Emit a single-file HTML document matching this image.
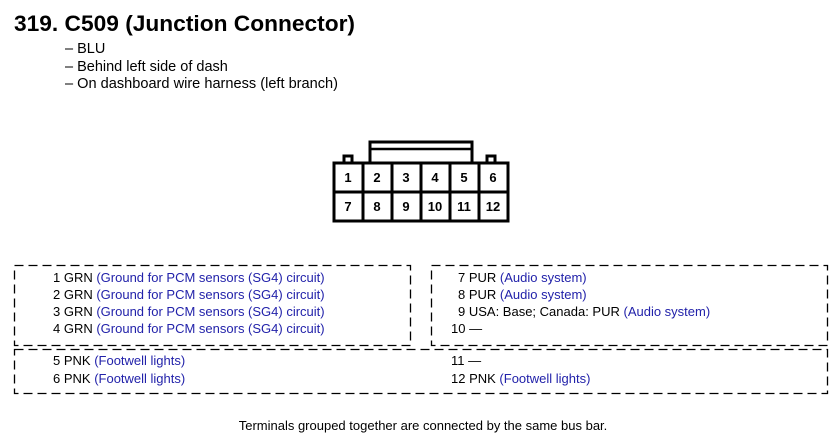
<!DOCTYPE html>
<html><head><meta charset="utf-8"><style>
body{margin:0;background:#fff;}
svg{display:block;font-family:"Liberation Sans",Arial,sans-serif;}
.b{fill:#2222aa}
</style></head><body>
<svg width="838" height="446" viewBox="0 0 838 446">
<text x="14" y="31" font-size="22.5" font-weight="bold" textLength="341" lengthAdjust="spacingAndGlyphs">319. C509 (Junction Connector)</text>
<g font-size="14.5">
<text x="65" y="53">– BLU</text>
<text x="65" y="71">– Behind left side of dash</text>
<text x="65" y="88" textLength="273" lengthAdjust="spacingAndGlyphs">– On dashboard wire harness (left branch)</text>
</g>
<g fill="none" stroke="#000" stroke-width="3">
<rect x="370" y="142" width="102" height="21"/>
<line x1="370" y1="149" x2="472" y2="149" stroke-width="2.5"/>
<path d="M344 163 V156 H352 V163 M487 163 V156 H495 V163"/>
<rect x="334" y="163" width="174" height="58"/>
<line x1="334" y1="192" x2="508" y2="192"/>
<line x1="363" y1="163" x2="363" y2="221"/>
<line x1="392" y1="163" x2="392" y2="221"/>
<line x1="421" y1="163" x2="421" y2="221"/>
<line x1="450" y1="163" x2="450" y2="221"/>
<line x1="479" y1="163" x2="479" y2="221"/>
</g>
<g font-size="13" font-weight="bold" text-anchor="middle">
<text x="348" y="182">1</text><text x="377" y="182">2</text><text x="406" y="182">3</text><text x="435" y="182">4</text><text x="464" y="182">5</text><text x="493" y="182">6</text>
<text x="348" y="211">7</text><text x="377" y="211">8</text><text x="406" y="211">9</text><text x="435" y="211">10</text><text x="464" y="211">11</text><text x="493" y="211">12</text>
</g>
<g fill="none" stroke="#000" stroke-width="1.3" stroke-dasharray="9,5">
<rect x="14.5" y="265.5" width="396" height="80"/>
<rect x="431.5" y="265.5" width="396" height="80"/>
<rect x="14.5" y="349.5" width="813" height="44"/>
</g>
<g font-size="13">
<text x="53" y="282">1 GRN <tspan class="b">(Ground for PCM sensors (SG4) circuit)</tspan></text>
<text x="53" y="299">2 GRN <tspan class="b">(Ground for PCM sensors (SG4) circuit)</tspan></text>
<text x="53" y="316">3 GRN <tspan class="b">(Ground for PCM sensors (SG4) circuit)</tspan></text>
<text x="53" y="333">4 GRN <tspan class="b">(Ground for PCM sensors (SG4) circuit)</tspan></text>
<text x="458" y="282">7 PUR <tspan class="b">(Audio system)</tspan></text>
<text x="458" y="299">8 PUR <tspan class="b">(Audio system)</tspan></text>
<text x="458" y="316">9 USA: Base; Canada: PUR <tspan class="b">(Audio system)</tspan></text>
<text x="451" y="333">10 —</text>
<text x="53" y="365">5 PNK <tspan class="b">(Footwell lights)</tspan></text>
<text x="53" y="383">6 PNK <tspan class="b">(Footwell lights)</tspan></text>
<text x="451" y="365">11 —</text>
<text x="451" y="383">12 PNK <tspan class="b">(Footwell lights)</tspan></text>
<text x="423" y="430" text-anchor="middle">Terminals grouped together are connected by the same bus bar.</text>
</g>
</svg>
</body></html>
